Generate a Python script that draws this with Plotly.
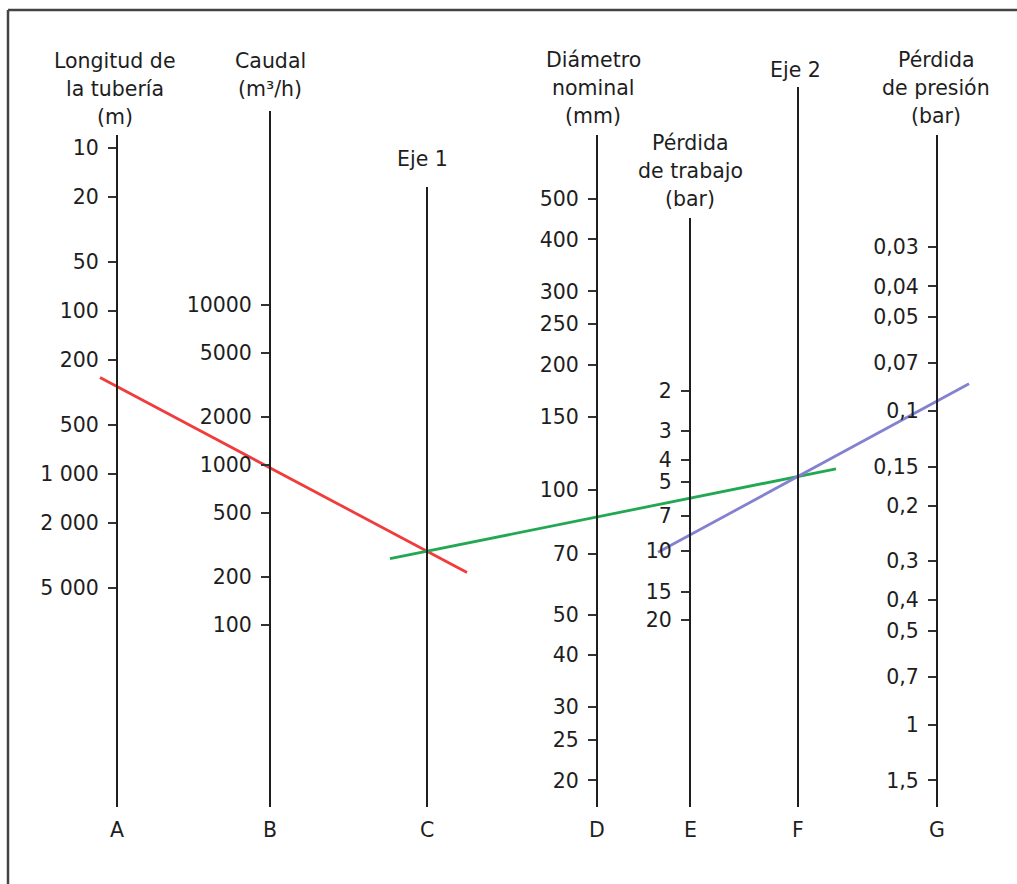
import numpy as np
import plotly.graph_objects as go

W, H = 1017, 884

# ---------------- data (scale values) ----------------
longitud_ticks = [10, 20, 50, 100, 200, 500, 1000, 2000, 5000]
longitud_labels = ["10", "20", "50", "100", "200", "500", "1 000", "2 000", "5 000"]

caudal_ticks = [100, 200, 500, 1000, 2000, 5000, 10000]
caudal_labels = ["100", "200", "500", "1000", "2000", "5000", "10000"]

diametro_ticks = [20, 25, 30, 40, 50, 70, 100, 150, 200, 250, 300, 400, 500]
diametro_labels = ["20", "25", "30", "40", "50", "70", "100", "150", "200", "250", "300", "400", "500"]

trabajo_ticks = [2, 3, 4, 5, 7, 10, 15, 20]
trabajo_labels = ["2", "3", "4", "5", "7", "10", "15", "20"]

presion_ticks = [0.03, 0.04, 0.05, 0.07, 0.1, 0.15, 0.2, 0.3, 0.4, 0.5, 0.7, 1, 1.5]
presion_labels = ["0,03", "0,04", "0,05", "0,07", "0,1", "0,15", "0,2", "0,3", "0,4", "0,5", "0,7", "1", "1,5"]

# worked example drawn on the chart
ejemplo_longitud = 290   # m      (scale A)
ejemplo_caudal = 960     # m3/h   (scale B)
ejemplo_diametro = 86    # mm     (scale D)
ejemplo_trabajo = 8.5    # bar    (scale E)

titles = {
    "A": ["Longitud de", "la tubería", "(m)"],
    "B": ["Caudal", "(m³/h)"],
    "C": ["Eje 1"],
    "D": ["Diámetro", "nominal", "(mm)"],
    "E": ["Pérdida", "de trabajo", "(bar)"],
    "F": ["Eje 2"],
    "G": ["Pérdida", "de presión", "(bar)"],
}

# ---------------- layout / style ----------------
FONT = "DejaVu Sans"
FS = 20.5
INK = "#1e1e1e"
col_x = {"A": 117, "B": 270, "C": 427, "D": 597, "E": 690, "F": 798, "G": 937}
col_top = {"A": 135, "B": 111, "C": 187, "D": 135, "E": 218, "F": 87, "G": 135}
col_bottom = 807
title_first_y = {"A": 61, "B": 61, "C": 159, "D": 60, "E": 143, "F": 70, "G": 60}
title_x = {"A": 115, "B": 270, "C": 422, "D": 593, "E": 690, "F": 795, "G": 936}
title_line_h = 28
letter_y = 830
# log10 ranges [bottom, top] of each scale (plot height = H, no margins)
log_ranges = {
    "A": [5.514, 0.0906],
    "B": [0.3788, 5.909],
    "D": [1.0517, 3.1778],
    "E": [2.4503, -1.4015],
    "G": [0.5059, -2.3103],
}
scales = {
    "A": (longitud_ticks, longitud_labels),
    "B": (caudal_ticks, caudal_labels),
    "D": (diametro_ticks, diametro_labels),
    "E": (trabajo_ticks, trabajo_labels),
    "G": (presion_ticks, presion_labels),
}


def to_px(col, v):
    r0, r1 = log_ranges[col]
    return H * (r1 - np.log10(v)) / (r1 - r0)


def line_through(p, q, x_from, x_to):
    (x1, y1), (x2, y2) = p, q
    s = (y2 - y1) / (x2 - x1)
    return [x_from, x_to], [y1 + s * (x_from - x1), y1 + s * (x_to - x1)], (lambda x: y1 + s * (x - x1))


fig = go.Figure()

# frame (top and left edges visible in the crop)
shapes = [
    dict(type="line", x0=8, x1=W + 20, y0=10, y1=10, line=dict(color="#444", width=2.5)),
    dict(type="line", x0=8, x1=8, y0=10, y1=H + 20, line=dict(color="#444", width=2.5)),
]
# vertical scale lines
for c, x in col_x.items():
    shapes.append(dict(type="line", x0=x, x1=x, y0=col_top[c], y1=col_bottom,
                       line=dict(color=INK, width=2)))

# log axes for each graduated scale
layout_axes = {}
for i, (c, (vals, labs)) in enumerate(scales.items(), start=2):
    name = f"yaxis{i}"
    layout_axes[name] = dict(
        overlaying="y", anchor="free", position=col_x[c] / W, side="left",
        type="log", range=log_ranges[c], autorange=False,
        tickmode="array", tickvals=vals, ticktext=labs,
        ticks="outside", ticklen=9, tickwidth=2, tickcolor="#333",
        ticklabelstandoff=5,
        tickfont=dict(family=FONT, size=FS, color=INK),
        showline=False, showgrid=False, zeroline=False, automargin=False,
    )
    fig.add_trace(go.Scatter(x=[col_x[c]] * len(vals), y=vals, yaxis=f"y{i}",
                             mode="markers", marker=dict(opacity=0),
                             hoverinfo="y", showlegend=False))

# example lines
red_x, red_y, red_f = line_through((col_x["A"], to_px("A", ejemplo_longitud)),
                                   (col_x["B"], to_px("B", ejemplo_caudal)), 100, 467)
pivot1 = (col_x["C"], red_f(col_x["C"]))
green_x, green_y, green_f = line_through(pivot1, (col_x["D"], to_px("D", ejemplo_diametro)), 390, 836)
pivot2 = (col_x["F"], green_f(col_x["F"]))
blue_x, blue_y, blue_f = line_through((col_x["E"], to_px("E", ejemplo_trabajo)), pivot2, 658, 969)

for xs, ys, color in [(red_x, red_y, "#f03c3c"), (green_x, green_y, "#22a852"), (blue_x, blue_y, "#8481cf")]:
    fig.add_trace(go.Scatter(x=xs, y=ys, mode="lines", line=dict(color=color, width=2.8),
                             hoverinfo="skip", showlegend=False))

# titles and letters
annotations = []
for c, lines in titles.items():
    for k, t in enumerate(lines):
        annotations.append(dict(x=title_x[c], y=title_first_y[c] + k * title_line_h, text=t,
                                showarrow=False, xanchor="center", yanchor="middle",
                                font=dict(family=FONT, size=FS, color=INK)))
    annotations.append(dict(x=col_x[c], y=letter_y, text=c, showarrow=False,
                            xanchor="center", yanchor="middle",
                            font=dict(family=FONT, size=FS, color=INK)))

fig.update_layout(
    width=W, height=H, margin=dict(l=0, r=0, t=0, b=0),
    paper_bgcolor="white", plot_bgcolor="white",
    xaxis=dict(range=[0, W], visible=False, fixedrange=True),
    yaxis=dict(range=[H, 0], visible=False, fixedrange=True),
    shapes=shapes, annotations=annotations, showlegend=False,
    **layout_axes,
)

fig.write_html("out.html", config={"displayModeBar": False},
               post_script="document.body.style.margin='0';document.body.style.overflow='hidden';")
